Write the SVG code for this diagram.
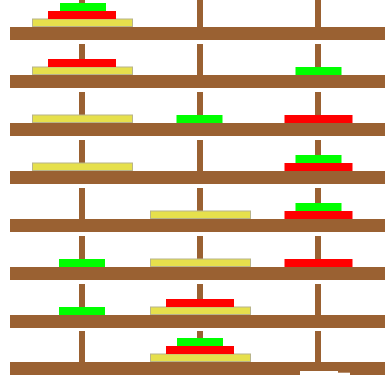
<svg xmlns="http://www.w3.org/2000/svg" width="385" height="381" viewBox="0 0 385 381">
<style>
.bar{fill:#9a6132}
.peg{fill:#9a6132}
.y{fill:#e6e04c;stroke:#b8b48a;stroke-width:1}
.r{fill:#ff0000}
.g{fill:#00ff00}
</style>
<defs>
<g id="stand">
<rect class="peg" x="79" y="-31" width="6" height="31"/>
<rect class="peg" x="197" y="-31" width="6" height="31"/>
<rect class="peg" x="315" y="-31" width="6" height="31"/>
<rect class="bar" x="10" y="0" width="375" height="13"/>
</g>
<rect id="Y" class="y" x="-50" y="-8" width="100" height="7.5"/>
<rect id="R" class="r" x="-34" y="-8" width="68" height="8"/>
<rect id="G" class="g" x="-23" y="-8" width="46" height="8"/>
</defs>
<rect width="385" height="381" fill="#ffffff"/>
<g id="row1" transform="translate(0,27)">
<use href="#stand"/>
<use href="#Y" x="82.5"/><use href="#R" x="82" y="-8"/><use href="#G" x="83" y="-16"/>
</g>
<g id="row2" transform="translate(0,75)">
<use href="#stand"/>
<use href="#Y" x="82.5"/><use href="#R" x="82" y="-8"/><use href="#G" x="318.5"/>
</g>
<g id="row3" transform="translate(0,123)">
<use href="#stand"/>
<use href="#Y" x="82.5"/><use href="#G" x="199.5"/><use href="#R" x="318.5"/>
</g>
<g id="row4" transform="translate(0,171)">
<use href="#stand"/>
<use href="#Y" x="82.5"/><use href="#R" x="318.5"/><use href="#G" x="318.5" y="-8"/>
</g>
<g id="row5" transform="translate(0,219)">
<use href="#stand"/>
<use href="#Y" x="200.5"/><use href="#R" x="318.5"/><use href="#G" x="318.5" y="-8"/>
</g>
<g id="row6" transform="translate(0,267)">
<use href="#stand"/>
<use href="#G" x="82"/><use href="#Y" x="200.5"/><use href="#R" x="318.5"/>
</g>
<g id="row7" transform="translate(0,315)">
<use href="#stand"/>
<use href="#G" x="82"/><use href="#Y" x="200.5"/><use href="#R" x="200" y="-8"/>
</g>
<g id="row8" transform="translate(0,362)">
<use href="#stand"/>
<use href="#Y" x="200.5"/><use href="#R" x="200" y="-8"/><use href="#G" x="200" y="-16"/>
</g>
<rect x="300" y="371" width="38" height="5" fill="#ffffff"/>
<rect x="338" y="372.7" width="12" height="4" fill="#ffffff"/>
</svg>
